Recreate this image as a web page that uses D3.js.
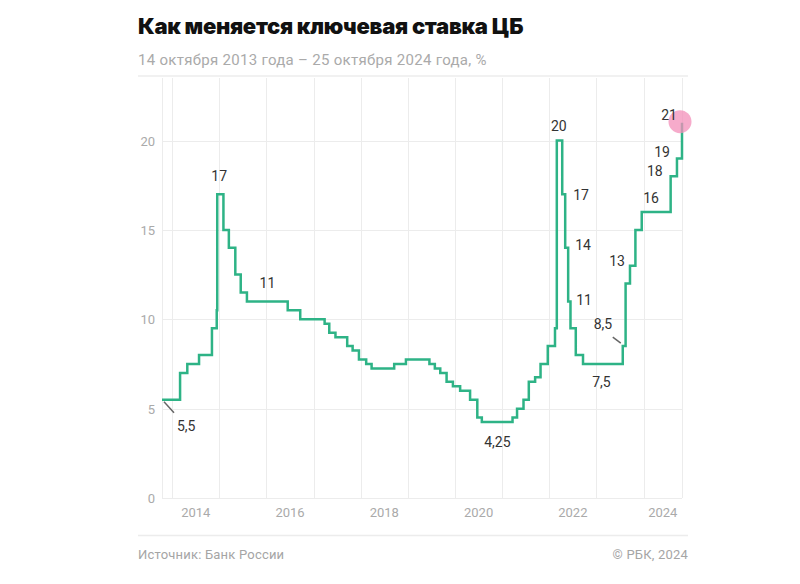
<!DOCTYPE html>
<html lang="ru">
<head>
<meta charset="utf-8">
<script src="https://cdn.jsdelivr.net/npm/d3@7"></script>
<style>
  body { margin: 0; background: #fff; }
  svg { display: block; font-family: Roboto, "Noto Sans", sans-serif; }
  .title { font-family: Inter, Roboto, sans-serif; font-weight: 900; font-size: 22px; fill: #111; letter-spacing: -0.3px; }
  .subtitle { font-size: 15px; fill: #aaa; letter-spacing: 0.3px; }
  .grid line { stroke: #ececec; stroke-width: 1; }
  .tick-label { font-size: 13px; fill: #aaa; }
  .note { font-size: 14px; fill: #333; }
  .leader { stroke: #666; stroke-width: 1.5; }
  .rate { fill: none; stroke: #2eb386; stroke-width: 2.5; }
  .footer { font-size: 13px; fill: #a5a5a5; letter-spacing: 0.2px; }
</style>
</head>
<body>
<svg width="800" height="584"></svg>
<script>
// даты изменения ключевой ставки и её значения, %
const rateDates = [
  "2013-10-14", "2014-03-03", "2014-04-28", "2014-07-28", "2014-11-05", "2014-12-12",
  "2014-12-16", "2015-02-02", "2015-03-16", "2015-05-05", "2015-06-16", "2015-08-03",
  "2016-06-14", "2016-09-19", "2017-03-27", "2017-05-02", "2017-06-19", "2017-09-18",
  "2017-10-30", "2017-12-18", "2018-02-12", "2018-03-26", "2018-09-17", "2018-12-17",
  "2019-06-17", "2019-07-29", "2019-09-09", "2019-10-28", "2019-12-16", "2020-02-10",
  "2020-04-27", "2020-06-22", "2020-07-27", "2021-03-22", "2021-04-26", "2021-06-15",
  "2021-07-26", "2021-09-13", "2021-10-25", "2021-12-20", "2022-02-14", "2022-02-28",
  "2022-04-11", "2022-05-04", "2022-05-27", "2022-06-14", "2022-07-25", "2022-09-19",
  "2023-07-24", "2023-08-15", "2023-09-18", "2023-10-30", "2023-12-18", "2024-07-29",
  "2024-09-16", "2024-10-25"
];
const rateValues = [
  5.5, 7, 7.5, 8, 9.5, 10.5,
  17, 15, 14, 12.5, 11.5, 11,
  10.5, 10, 9.75, 9.25, 9, 8.5,
  8.25, 7.75, 7.5, 7.25, 7.5, 7.75,
  7.5, 7.25, 7, 6.5, 6.25, 6,
  5.5, 4.5, 4.25, 4.5, 5, 5.5,
  6.5, 6.75, 7.5, 8.5, 9.5, 20,
  17, 14, 11, 9.5, 8, 7.5,
  8.5, 12, 13, 15, 16, 18,
  19, 21
];
const periodEnd = "2024-10-25";

const yTicks = [0, 5, 10, 15, 20];
const xLabelYears = [2014, 2016, 2018, 2020, 2022, 2024];

// подписи на графике
const noteDates  = ["2013-10-14", "2014-12-16", "2016-01-01", "2020-11-01", "2022-02-28", "2022-04-11",
                    "2022-05-04", "2022-05-27", "2023-07-24", "2023-02-01", "2023-09-18", "2024-03-15",
                    "2024-07-29", "2024-09-16", "2024-10-25"];
const noteValues = [5.5, 17, 11, 4.25, 20, 17, 14, 11, 8.5, 7.5, 13, 16, 18, 19, 21];
const noteTexts  = ["5,5", "17", "11", "4,25", "20", "17", "14", "11", "8,5", "7,5", "13", "16", "18", "19", "21"];

const titleText = "Как меняется ключевая ставка ЦБ";
const subtitleText = "14 октября 2013 года – 25 октября 2024 года, %";
const sourceText = "Источник: Банк России";
const copyrightText = "© РБК, 2024";

const parseDate = d3.timeParse("%Y-%m-%d");

// смещения подписей относительно точки: [dx, dy, anchor]
const noteOffsets = [
  [15, 31, "start"], [2, -13, "middle"], [1, -13, "middle"], [3, 25, "middle"],
  [2, -10, "middle"], [11, 6, "start"], [10, 2, "start"], [8, 4, "start"],
  [-29, -17, "start"], [1, 23, "middle"], [-5, 0, "end"], [-2, -9, "middle"],
  [-8, 0, "end"], [-7, -1, "end"], [-5, -3, "end"]
];

window.onload = () => {
  const svg = d3.select("svg");
  const plot = { left: 162, right: 682, top: 78, bottom: 498 };

  const data = rateDates.map((d, i) => ({ date: parseDate(d), value: rateValues[i] }));
  const start = data[0].date;
  const end = parseDate(periodEnd);

  const x = d3.scaleTime()
    .domain([start, end])
    .range([plot.left, plot.right]);

  const y = d3.scaleLinear()
    .domain([0, 23.5])
    .range([plot.bottom, plot.top]);

  drawHeader(svg);
  drawGrid(svg, x, y, plot, start, end);
  drawRate(svg, data, x, y);
  drawNotes(svg, x, y);
  drawFooter(svg);
};

const drawHeader = (svg) => {
  svg.append("text")
    .attr("class", "title")
    .attr("x", 138)
    .attr("y", 34)
    .text(titleText);

  svg.append("text")
    .attr("class", "subtitle")
    .attr("x", 138)
    .attr("y", 65)
    .text(subtitleText);

  svg.append("line")
    .attr("x1", 138).attr("x2", 688)
    .attr("y1", 76).attr("y2", 76)
    .attr("stroke", "#ececec")
    .attr("stroke-width", 1.5);
};

const drawGrid = (svg, x, y, plot, start, end) => {
  const grid = svg.append("g").attr("class", "grid");

  const yearStarts = d3.timeYear.range(d3.timeYear.ceil(start), end);
  const vLines = [start, ...yearStarts, end];

  grid.selectAll(".v")
    .data(vLines)
    .enter().append("line")
      .attr("class", "v")
      .attr("x1", d => Math.round(x(d)) + 0.5)
      .attr("x2", d => Math.round(x(d)) + 0.5)
      .attr("y1", plot.top)
      .attr("y2", plot.bottom);

  grid.selectAll(".h")
    .data(yTicks)
    .enter().append("line")
      .attr("class", "h")
      .attr("x1", plot.left)
      .attr("x2", plot.right)
      .attr("y1", d => Math.round(y(d)) + 0.5)
      .attr("y2", d => Math.round(y(d)) + 0.5);

  svg.append("g")
    .selectAll("text")
    .data(yTicks)
    .enter().append("text")
      .attr("class", "tick-label")
      .attr("text-anchor", "end")
      .attr("x", plot.left - 7)
      .attr("y", d => y(d) + 5)
      .text(d => d);

  // подпись года по центру видимой части года
  const yearMid = (yr) => {
    const a = d3.max([new Date(yr, 0, 1), start]);
    const b = d3.min([new Date(yr + 1, 0, 1), end]);
    return (x(a) + x(b)) / 2;
  };

  svg.append("g")
    .selectAll("text")
    .data(xLabelYears)
    .enter().append("text")
      .attr("class", "tick-label")
      .attr("text-anchor", "middle")
      .attr("x", d => yearMid(d))
      .attr("y", plot.bottom + 19)
      .text(d => d);
};

const drawRate = (svg, data, x, y) => {
  const line = d3.line()
    .x(d => x(d.date))
    .y(d => y(d.value))
    .curve(d3.curveStepAfter);

  svg.append("path")
    .datum(data)
    .attr("class", "rate")
    .attr("stroke-linejoin", "miter")
    .attr("d", line);

  const last = data[data.length - 1];
  svg.append("circle")
    .attr("cx", x(last.date) - 2)
    .attr("cy", y(last.value) - 1)
    .attr("r", 11.5)
    .attr("fill", "#f38fba")
    .attr("opacity", 0.75);
};

const drawNotes = (svg, x, y) => {
  const notes = noteDates.map((d, i) => ({
    date: parseDate(d), value: noteValues[i], text: noteTexts[i], off: noteOffsets[i]
  }));

  const g = svg.append("g");

  g.selectAll("text")
    .data(notes)
    .enter().append("text")
      .attr("class", "note")
      .attr("text-anchor", d => d.off[2])
      .attr("x", d => x(d.date) + d.off[0])
      .attr("y", d => y(d.value) + d.off[1])
      .text(d => d.text);

  // выноски для 5,5 и 8,5
  const p55 = notes[0];
  g.append("line")
    .attr("class", "leader")
    .attr("x1", x(p55.date) + 2).attr("y1", y(p55.value) + 2)
    .attr("x2", x(p55.date) + 12).attr("y2", y(p55.value) + 13);

  const p85 = notes[8];
  g.append("line")
    .attr("class", "leader")
    .attr("x1", x(p85.date) - 10).attr("y1", y(p85.value) - 9)
    .attr("x2", x(p85.date) - 2).attr("y2", y(p85.value) - 3);
};

const drawFooter = (svg) => {
  svg.append("line")
    .attr("x1", 138).attr("x2", 688)
    .attr("y1", 535.5).attr("y2", 535.5)
    .attr("stroke", "#ececec")
    .attr("stroke-width", 1.5);

  svg.append("text")
    .attr("class", "footer")
    .attr("x", 138)
    .attr("y", 559)
    .text(sourceText);

  svg.append("text")
    .attr("class", "footer")
    .attr("text-anchor", "end")
    .attr("x", 688)
    .attr("y", 559)
    .text(copyrightText);
};
</script>
</body>
</html>
